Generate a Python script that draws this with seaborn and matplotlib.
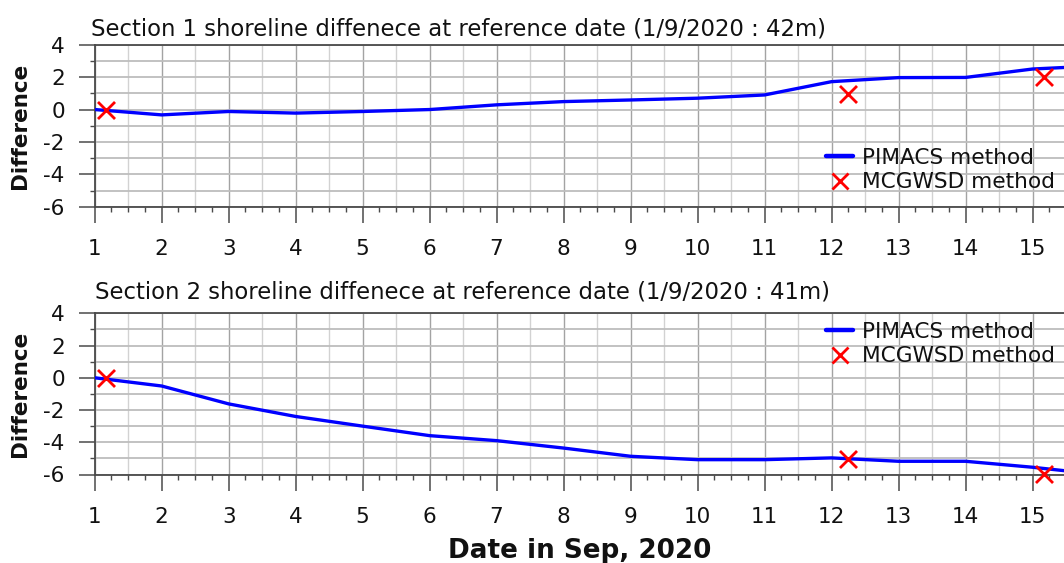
import numpy as np
import pandas as pd
import matplotlib
matplotlib.use("Agg")
import matplotlib.pyplot as plt
from matplotlib.ticker import MultipleLocator
from matplotlib.lines import Line2D
import seaborn as sns

# Daily shoreline difference (m) relative to the 1 Sep 2020 reference line
days = [1, 2, 3, 4, 5, 6, 7, 8, 9, 10, 11, 12, 13, 14, 15, 16]
pimacs_s1 = [0.0, -0.33, -0.12, -0.22, -0.12, 0.0, 0.29, 0.49, 0.59, 0.7, 0.9, 1.72, 1.97, 1.98, 2.5, 2.7]
pimacs_s2 = [0.0, -0.51, -1.62, -2.4, -3.0, -3.59, -3.9, -4.36, -4.87, -5.08, -5.08, -4.97, -5.18, -5.18, -5.55, -6.0]

# MCGWSD acquisitions (fractional day of month)
mcg_days = [1.17, 12.25, 15.17]
mcg_s1 = [0.0, 0.96, 2.0]
mcg_s2 = [0.0, -5.03, -5.96]

titles = [
    "Section 1 shoreline diffenece at reference date (1/9/2020 : 42m)",
    "Section 2 shoreline diffenece at reference date (1/9/2020 : 41m)",
]
xticks = list(range(1, 16))
yticks = [-6, -4, -2, 0, 2, 4]

sns.set_style("white")
plt.rcParams["font.family"] = ["DejaVu Sans"]
plt.rcParams["axes.unicode_minus"] = False

W, H = 1064, 563
fig = plt.figure(figsize=(W / 100, H / 100), dpi=100)

def fx(px):
    return px / W

def fy(py):
    return 1 - py / H

ax_left = 94.7
ax1 = fig.add_axes([fx(ax_left), fy(206.8), fx(W - ax_left), (206.8 - 44.7) / H])
ax2 = fig.add_axes([fx(ax_left), fy(474.5), fx(W - ax_left), (474.5 - 313.3) / H])

spine_col = "#4a4a4a"
text_col = "#111111"
series = [(ax1, pimacs_s1, mcg_s1), (ax2, pimacs_s2, mcg_s2)]

for ax, line_vals, mcg_vals in series:
    line_df = pd.DataFrame({"day": days, "diff": line_vals})
    mcg_df = pd.DataFrame({"day": mcg_days, "diff": mcg_vals})

    ax.set_xlim(1, 15.47)
    ax.set_ylim(-6, 4)

    # grid: horizontal every 1 m, vertical every half day (integers darker)
    ax.xaxis.set_major_locator(MultipleLocator(1))
    ax.xaxis.set_minor_locator(MultipleLocator(0.25))
    ax.yaxis.set_major_locator(MultipleLocator(2))
    ax.yaxis.set_minor_locator(MultipleLocator(1))
    ax.set_xticks(xticks)
    ax.set_yticks(yticks)
    ax.grid(False)
    ax.grid(True, axis="y", which="both", color="#bdbdbd", lw=1.3, zorder=0)
    ax.grid(True, axis="x", which="major", color="#a3a3a3", lw=1.0, zorder=0)
    for xv in np.arange(1.5, 16, 1.0):
        ax.axvline(xv, color="#d2d2d2", lw=1.0, zorder=0)
    ax.set_axisbelow(True)

    sns.lineplot(data=line_df, x="day", y="diff", ax=ax, color="#0000ff",
                 lw=2.4, zorder=3, legend=False)
    sns.scatterplot(data=mcg_df, x="day", y="diff", ax=ax, marker="x",
                    color="#ff0000", s=150, linewidth=2.0, zorder=4,
                    legend=False)
    for coll in ax.collections:
        coll.set_clip_on(False)

    for side in ["left", "top", "bottom"]:
        ax.spines[side].set_visible(True)
        ax.spines[side].set_color(spine_col)
        ax.spines[side].set_linewidth(1.3)
    ax.spines["right"].set_visible(False)

    ax.tick_params(axis="both", which="major", length=11.5, width=1.1,
                   color=spine_col, labelsize=15.5, labelcolor=text_col)
    ax.tick_params(axis="both", which="minor", length=3.6, width=1.0,
                   color=spine_col)
    ax.tick_params(axis="x", which="major", pad=12)
    ax.tick_params(axis="y", which="major", pad=10)
    ax.tick_params(axis="x", which="both", bottom=True, top=False)
    ax.tick_params(axis="y", which="both", left=True, right=False)

    ax.set_xlabel("")
    ax.set_ylabel("Difference", fontsize=15.5, fontweight="bold",
                  color=text_col)

# y-label positions in figure coordinates
for ax, yc in ((ax1, 125.7), (ax2, 394)):
    ax.yaxis.set_label_coords(fx(30), fy(yc), transform=fig.transFigure)

fig.text(fx(91), fy(35), titles[0], fontsize=16.4, va="baseline", ha="left",
         color=text_col)
fig.text(fx(95), fy(298.5), titles[1], fontsize=16.4, va="baseline", ha="left",
         color=text_col)

fig.text(fx(580), fy(551), "Date in Sep, 2020", fontsize=18.9, fontweight="bold",
         ha="center", va="center", color=text_col)

handles = [
    Line2D([], [], color="#0000ff", lw=3.2),
    Line2D([], [], color="#ff0000", marker="x", ls="none", markersize=12,
           markeredgewidth=2.0),
]
labels = ["PIMACS method", "MCGWSD method"]
for ax, yc in ((ax1, 170), (ax2, 344)):
    ax.legend(handles, labels, loc="center left",
              bbox_to_anchor=(fx(826), fy(yc)),
              bbox_transform=fig.transFigure, frameon=False, fontsize=15.6,
              borderpad=0, borderaxespad=0, handlelength=1.25,
              handletextpad=0.4, labelspacing=0.22, labelcolor=text_col)

fig.savefig("out.png", dpi=100)
